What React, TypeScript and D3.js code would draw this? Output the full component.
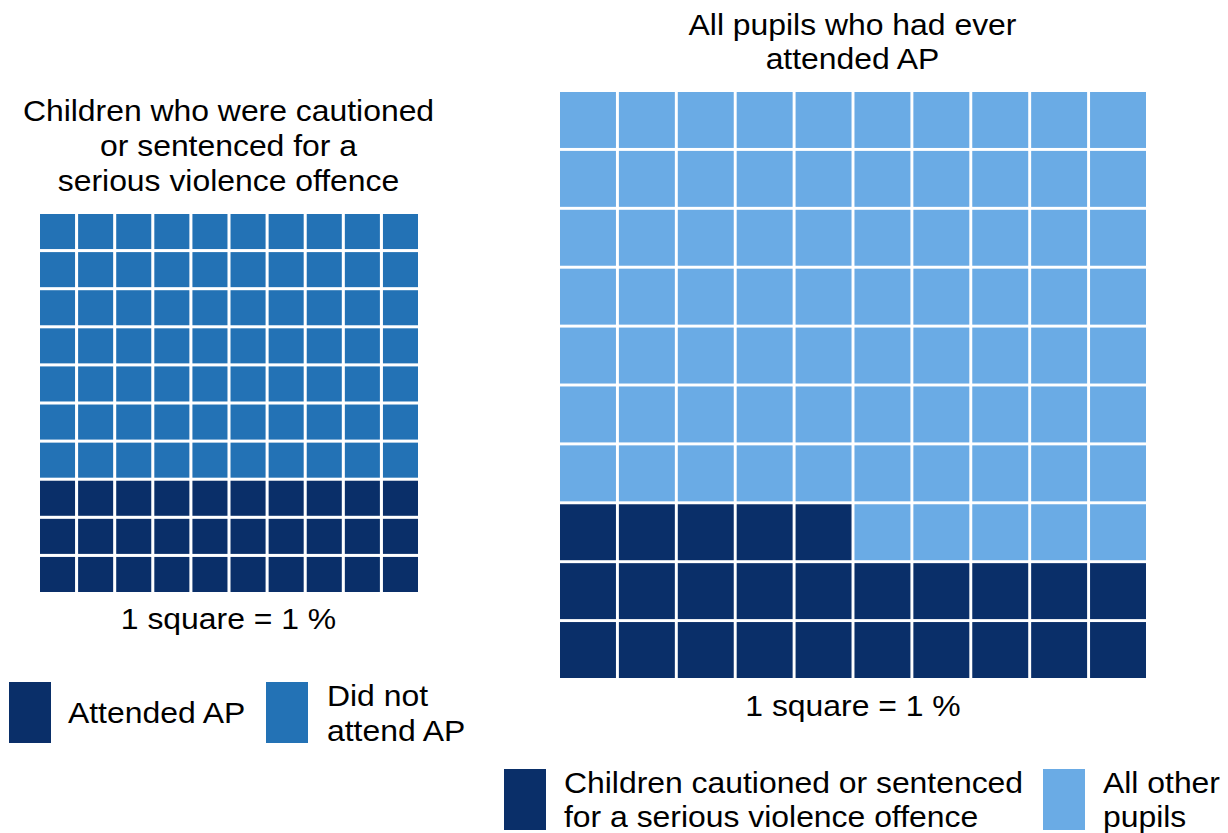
import React from "react";
import * as d3 from "d3";

const leftCategories = ["Attended AP", "Did not attend AP"];
const leftValues = [30, 70];
const rightCategories = ["Children cautioned or sentenced for a serious violence offence", "All other pupils"];
const rightValues = [25, 75];
const leftTitle = ["Children who were cautioned", "or sentenced for a", "serious violence offence"];
const rightTitle = ["All pupils who had ever", "attended AP"];
const scaleNote = "1 square = 1 %";

const DARK = "#0a2f69";
const MID = "#2372b5";
const LIGHT = "#6aabe5";
const FONT = "'Liberation Sans', Arial, sans-serif";
const FS = 29;
const SX = 1.1;

function cellsFor(values: number[]) {
  const cells: { row: number; col: number; k: number }[] = [];
  let idx = 0;
  values.forEach((v, k) => {
    for (let j = 0; j < v; j++) {
      cells.push({ row: Math.floor(idx / 10), col: idx % 10, k });
      idx++;
    }
  });
  return cells;
}

function Waffle({ values, colors, x0, x1, y0, y1, pad }: any) {
  const idx = d3.range(10);
  const xs = d3.scaleBand<number>().domain(idx).range([x0, x1]).paddingInner(pad);
  const ys = d3.scaleBand<number>().domain(idx).range([y1, y0]).paddingInner(pad);
  const color = d3.scaleOrdinal<number, string>().domain([0, 1]).range(colors);
  return (
    <g>
      {cellsFor(values).map((c, i) => (
        <rect key={i} x={xs(c.col)} y={ys(c.row)} width={xs.bandwidth()} height={ys.bandwidth()} fill={color(c.k)} />
      ))}
    </g>
  );
}

function T({ x, y, anchor, children }: any) {
  return (
    <text transform={`translate(${x},${y}) scale(${SX},1)`} fontSize={FS} textAnchor={anchor || "start"} fill="#000">
      {children}
    </text>
  );
}

export default function App() {
  return (
    <svg width={1228} height={833} style={{ position: "absolute", left: 0, top: 0, background: "#fff" }} fontFamily={FONT}>
      {leftTitle.map((t, i) => (
        <T key={i} x={228.5} y={121 + i * 35} anchor="middle">{t}</T>
      ))}
      {rightTitle.map((t, i) => (
        <T key={i} x={852.5} y={35 + i * 33.5} anchor="middle">{t}</T>
      ))}
      <Waffle values={leftValues} colors={[DARK, MID]} x0={40} x1={418} y0={214} y1={592} pad={0.08} />
      <Waffle values={rightValues} colors={[DARK, LIGHT]} x0={560} x1={1146} y0={92} y1={678} pad={0.05} />
      <T x={228.5} y={629} anchor="middle">{scaleNote}</T>
      <T x={853} y={716} anchor="middle">{scaleNote}</T>

      <rect x={9} y={682} width={42} height={61} fill={DARK} />
      <T x={68} y={723}>{leftCategories[0]}</T>
      <rect x={266} y={682} width={42} height={61} fill={MID} />
      <T x={327} y={706}>Did not</T>
      <T x={327} y={741}>attend AP</T>

      <rect x={504} y={769} width={42} height={61} fill={DARK} />
      <T x={564} y={793}>Children cautioned or sentenced</T>
      <T x={564} y={827}>for a serious violence offence</T>
      <rect x={1043} y={769} width={42} height={61} fill={LIGHT} />
      <T x={1103} y={793}>All other</T>
      <T x={1103} y={827}>pupils</T>
    </svg>
  );
}
